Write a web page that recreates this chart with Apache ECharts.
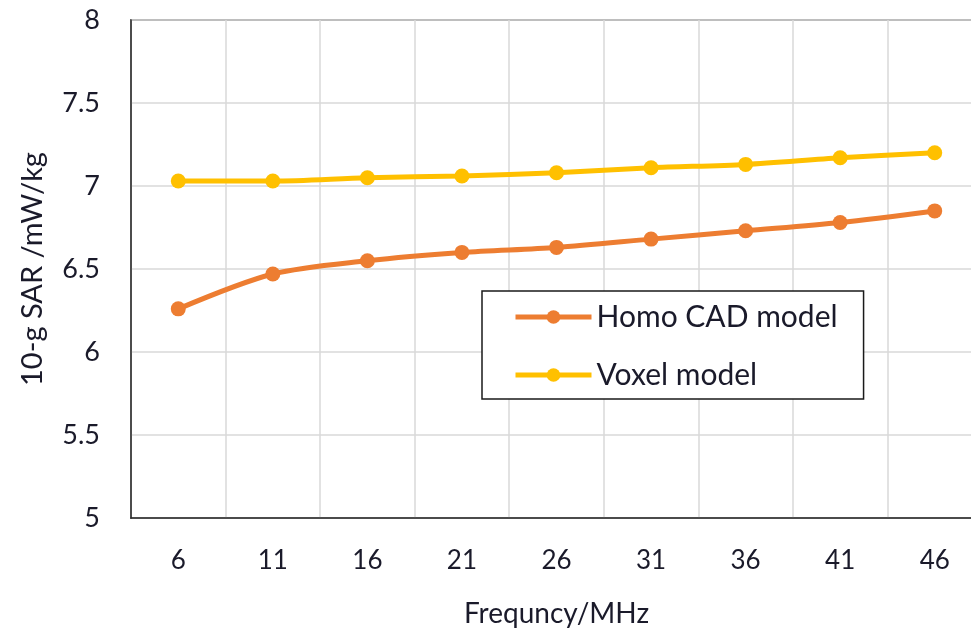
<!DOCTYPE html>
<html>
<head>
<meta charset="utf-8">
<script src="https://cdn.jsdelivr.net/npm/echarts@6/dist/echarts.min.js"></script>
<style>
  html, body { margin: 0; padding: 0; background: #fff; overflow: hidden; }
  #chart { width: 971px; height: 628px; }
</style>
</head>
<body>
<div id="chart"></div>
<script>
// Frequency points (MHz)
const frequencies = ['6', '11', '16', '21', '26', '31', '36', '41', '46'];
// 10-g SAR values (mW/kg)
const homoCad = [6.26, 6.47, 6.55, 6.60, 6.63, 6.68, 6.73, 6.78, 6.85];
const voxel = [7.03, 7.03, 7.05, 7.06, 7.08, 7.11, 7.13, 7.17, 7.20];
const seriesNames = ['Homo CAD model', 'Voxel model'];
const seriesColors = ['#ED7D31', '#FFC000'];

const FONT = 'Lato';
const TEXT = '#1a1a2a';
const chart = echarts.init(document.getElementById('chart'));

chart.setOption({
  animation: false,
  textStyle: { fontFamily: FONT },
  // plot frame runs slightly past the right edge of the canvas
  grid: {
    left: 131, top: 20, width: 851, height: 498,
    outerBoundsMode: 'none', containLabel: false,
    show: true, borderColor: '#404040', borderWidth: 1.5
  },
  legend: {
    orient: 'vertical',
    left: 482, top: 291,
    data: seriesNames,
    itemWidth: 76, itemHeight: 17, itemGap: 22,
    padding: [8, 26, 6, 31],
    borderColor: '#1a1a1a', borderWidth: 1.5,
    backgroundColor: '#fff',
    lineStyle: { width: 5 },
    textStyle: { fontFamily: FONT, fontSize: 30, color: TEXT, lineHeight: 36 }
  },
  xAxis: {
    type: 'category',
    data: frequencies,
    boundaryGap: true,
    name: 'Frequncy/MHz',
    nameLocation: 'middle',
    nameGap: 82,
    nameTextStyle: { fontFamily: FONT, fontSize: 28, color: TEXT },
    axisLine: { lineStyle: { color: '#262626', width: 1.5 } },
    axisTick: { show: false },
    axisLabel: { fontFamily: FONT, fontSize: 26, color: TEXT, margin: 30 },
    splitLine: { show: true, lineStyle: { color: '#d9d9d9', width: 1.5 } }
  },
  yAxis: {
    type: 'value',
    min: 5, max: 8, interval: 0.5,
    name: '10-g SAR /mW/kg',
    nameLocation: 'middle',
    nameGap: 84,
    nameTextStyle: { fontFamily: FONT, fontSize: 29, color: TEXT },
    axisLine: { show: true, lineStyle: { color: '#262626', width: 1.5 } },
    axisTick: { show: false },
    axisLabel: { fontFamily: FONT, fontSize: 27, color: TEXT, margin: 31 },
    splitLine: { show: true, lineStyle: { color: '#d9d9d9', width: 1.5 } }
  },
  series: [
    {
      name: seriesNames[0], type: 'line', data: homoCad,
      smooth: 0.3, symbol: 'circle', symbolSize: 15,
      lineStyle: { color: seriesColors[0], width: 5 },
      itemStyle: { color: seriesColors[0] }
    },
    {
      name: seriesNames[1], type: 'line', data: voxel,
      smooth: 0.3, symbol: 'circle', symbolSize: 15,
      lineStyle: { color: seriesColors[1], width: 5 },
      itemStyle: { color: seriesColors[1] }
    }
  ]
});
</script>
</body>
</html>
